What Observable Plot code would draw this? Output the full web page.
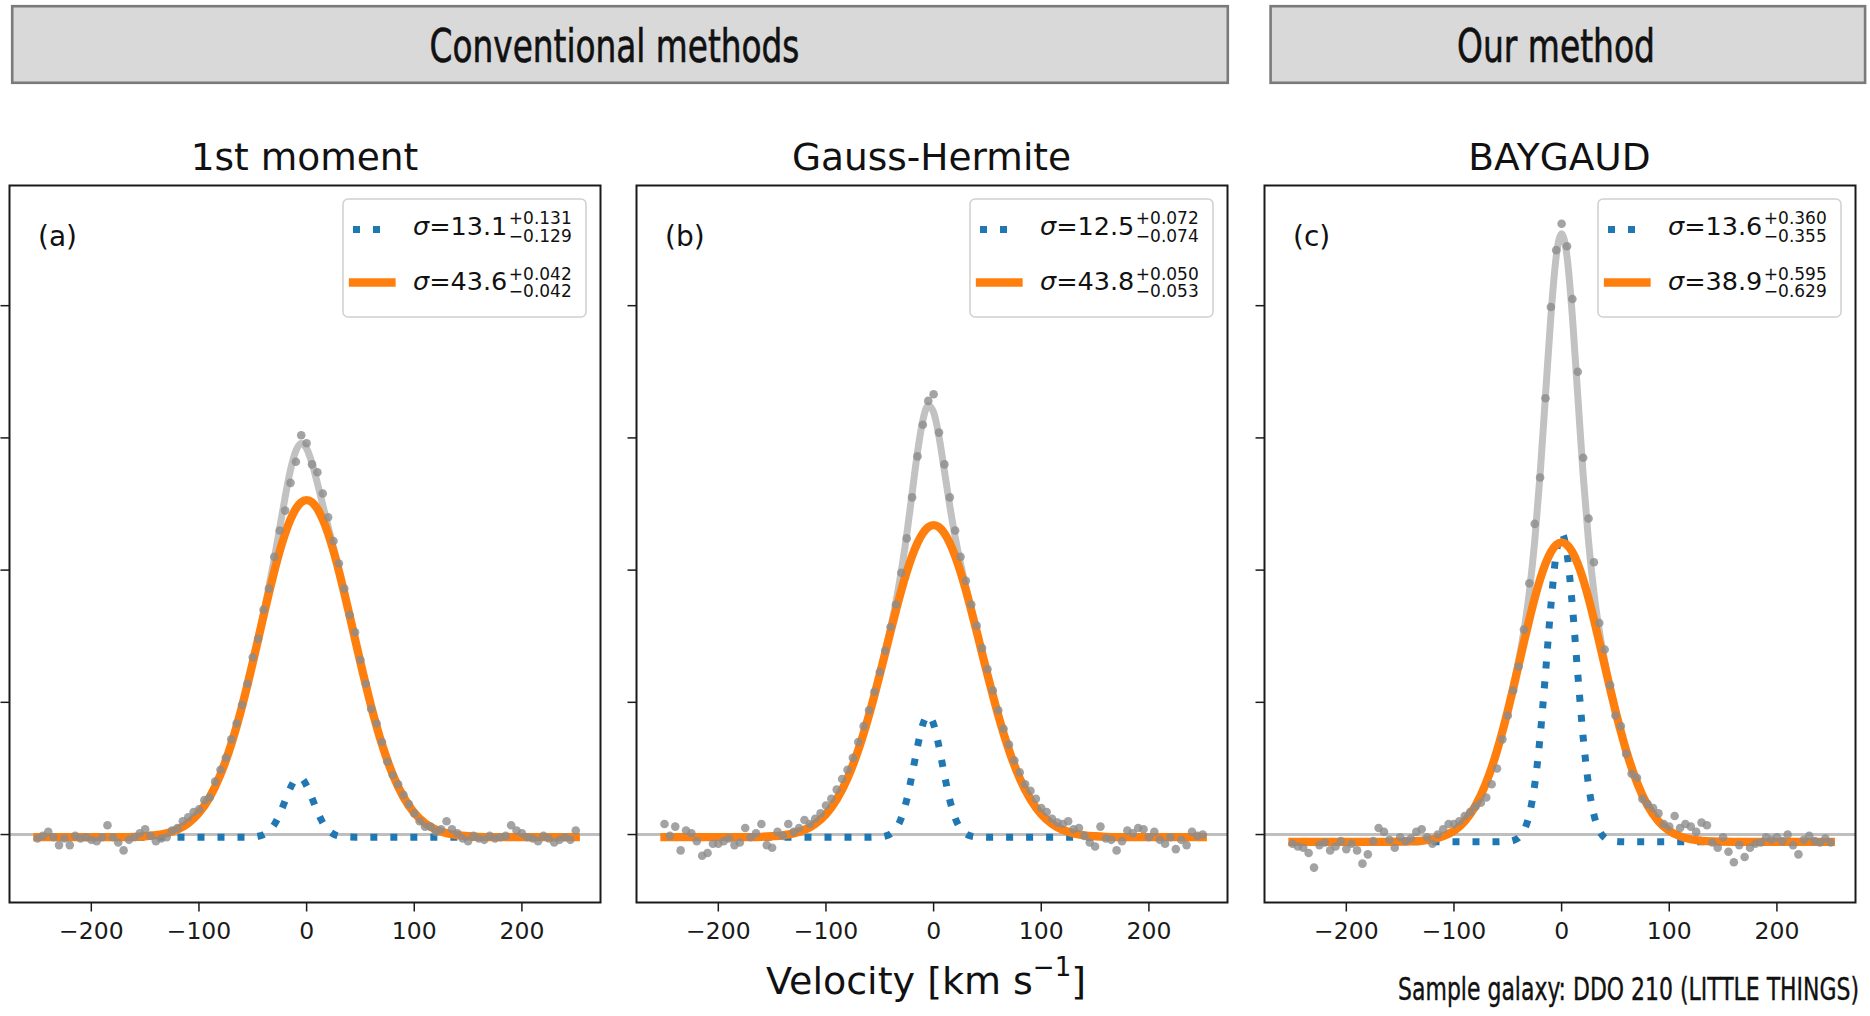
<!DOCTYPE html>
<html>
<head>
<meta charset="utf-8">
<script src="https://cdn.jsdelivr.net/npm/d3@7"></script>
<script src="https://cdn.jsdelivr.net/npm/@observablehq/plot@0.6"></script>
<style>
  html, body { margin: 0; padding: 0; background: #ffffff; }
  #page { position: relative; width: 1870px; height: 1016px; overflow: hidden; background: #ffffff; }
</style>
</head>
<body>
<div id="page"></div>
<script>
// ---------------- DATA ----------------
const groupTitles = ["Conventional methods", "Our method"];
const panelTitles = ["1st moment", "Gauss-Hermite", "BAYGAUD"];
const panelLetters = ["(a)", "(b)", "(c)"];
const xTicks = [-200, -100, 0, 100, 200];
const yTicks = [0, 1, 2, 3, 4];
const xLabelMain = "Velocity [km s";
const xLabelSup = "−1";
const captionText = "Sample galaxy: DDO 210 (LITTLE THINGS)";

// legend numbers
const narrowSigma = ["13.1", "12.5", "13.6"];
const narrowPlus  = ["+0.131", "+0.072", "+0.360"];
const narrowMinus = ["−0.129", "−0.074", "−0.355"];
const broadSigma  = ["43.6", "43.8", "38.9"];
const broadPlus   = ["+0.042", "+0.050", "+0.595"];
const broadMinus  = ["−0.042", "−0.053", "−0.629"];

// channel velocities of the observed spectra (km/s)
const velocity = [-250,-245,-240,-235,-230,-225,-220,-215,-210,-205,-200,-195,-190,-185,-180,-175,-170,-165,-160,-155,
  -150,-145,-140,-135,-130,-125,-120,-115,-110,-105,-100,-95,-90,-85,-80,-75,-70,-65,-60,-55,
  -50,-45,-40,-35,-30,-25,-20,-15,-10,-5,0,5,10,15,20,25,30,35,40,45,
  50,55,60,65,70,75,80,85,90,95,100,105,110,115,120,125,130,135,140,145,
  150,155,160,165,170,175,180,185,190,195,200,205,210,215,220,225,230,235,240,245,250];

// observed fluxes (grey dots), one per panel
const fluxA = [-0.03,-0.01,0.02,-0.02,-0.08,-0.03,-0.08,-0.01,-0.03,-0.02,-0.04,-0.05,-0.02,0.07,-0.02,-0.06,-0.12,-0.04,-0.02,0.01,
  0.04,-0.01,-0.05,-0.03,-0.02,0.03,0.05,0.10,0.13,0.17,0.19,0.26,0.28,0.40,0.49,0.58,0.72,0.84,0.98,1.14,
  1.34,1.48,1.70,1.86,2.10,2.30,2.45,2.66,2.82,3.02,2.96,2.80,2.74,2.58,2.40,2.22,2.05,1.86,1.66,1.53,
  1.32,1.14,0.95,0.84,0.70,0.55,0.45,0.38,0.30,0.23,0.16,0.10,0.06,0.06,0.02,0.04,0.10,0.04,0.01,-0.03,
  -0.05,-0.01,-0.03,-0.04,-0.01,-0.03,-0.02,-0.01,0.07,0.03,0.01,-0.02,-0.03,-0.05,-0.01,-0.03,-0.06,-0.04,-0.02,-0.04,0.03];
const fluxB = [0.08,-0.01,0.06,-0.12,0.03,0.01,-0.05,-0.16,-0.14,-0.07,-0.07,-0.05,-0.03,-0.08,-0.06,0.05,-0.02,0.01,0.08,-0.08,
  -0.10,0.02,-0.01,0.08,0.02,0.05,0.11,0.08,0.12,0.16,0.22,0.27,0.34,0.42,0.49,0.58,0.70,0.82,0.94,1.08,
  1.23,1.39,1.57,1.74,1.98,2.24,2.55,2.86,3.10,3.28,3.33,3.04,2.80,2.55,2.30,2.10,1.92,1.74,1.58,1.41,
  1.25,1.09,0.94,0.80,0.68,0.56,0.47,0.38,0.33,0.27,0.20,0.17,0.12,0.09,0.08,0.10,0.04,0.05,-0.01,-0.06,
  -0.09,0.06,-0.03,-0.04,-0.12,-0.05,0.03,0.01,0.05,0.04,-0.02,0.02,-0.04,-0.07,-0.02,-0.11,-0.04,-0.08,0.02,-0.01,0.00];
const fluxC = [-0.07,-0.09,-0.10,-0.14,-0.25,-0.08,-0.06,-0.12,-0.09,-0.05,-0.11,-0.07,-0.12,-0.22,-0.15,-0.05,0.05,0.02,-0.04,-0.10,
  -0.02,-0.05,-0.03,0.02,0.04,-0.02,-0.07,0.00,0.04,0.08,0.08,0.10,0.14,0.17,0.21,0.24,0.28,0.38,0.50,0.72,
  0.90,1.09,1.27,1.55,1.90,2.35,2.70,3.30,3.99,4.42,4.62,4.45,4.05,3.50,2.85,2.39,2.06,1.60,1.40,1.13,
  0.90,0.82,0.61,0.46,0.43,0.27,0.23,0.20,0.16,0.08,0.06,0.14,0.05,0.08,0.06,0.02,0.09,0.07,-0.06,-0.10,
  -0.02,-0.13,-0.21,-0.08,-0.17,-0.10,-0.07,-0.06,-0.02,-0.04,-0.02,-0.05,0.00,-0.08,-0.15,-0.04,-0.01,-0.05,-0.06,-0.03,-0.06];

// velocities at which the fitted profiles were read
const modelVelocity = [-250,-200,-170,-160,-150,-140,-130,-120,-110,-100,-90,-80,-70,
  -60,-55,-50,-45,-40,-35,-30,-25,-20,-15,-10,-5,0,5,10,15,20,25,30,35,40,45,50,55,60,
  70,80,90,100,110,120,130,140,150,160,170,200,250];

// panel (a) 1st moment
const totalA = [-0.02,-0.02,-0.019,-0.017,-0.013,-0.005,0.010,0.038,0.086,0.164,0.283,0.454,0.683,
  0.969,1.132,1.303,1.484,1.673,1.873,2.088,2.318,2.550,2.757,2.902,2.958,2.920,2.809,2.658,2.493,2.329,2.166,2.000,1.830,1.655,1.477,1.301,1.131,0.969,
  0.683,0.454,0.283,0.164,0.086,0.038,0.010,-0.005,-0.013,-0.017,-0.019,-0.02,-0.02];
const broadA = [-0.02,-0.02,-0.019,-0.017,-0.013,-0.005,0.010,0.038,0.086,0.164,0.283,0.454,0.683,
  0.969,1.131,1.301,1.477,1.654,1.827,1.992,2.143,2.275,2.383,2.464,2.513,2.530,2.513,2.464,2.383,2.275,2.143,1.992,1.827,1.654,1.477,1.301,1.131,0.969,
  0.683,0.454,0.283,0.164,0.086,0.038,0.010,-0.005,-0.013,-0.017,-0.019,-0.02,-0.02];
const narrowA = [-0.02,-0.02,-0.02,-0.02,-0.02,-0.02,-0.02,-0.02,-0.02,-0.02,-0.02,-0.02,-0.02,
  -0.020,-0.020,-0.018,-0.013,-0.001,0.026,0.076,0.155,0.255,0.354,0.418,0.425,0.370,0.276,0.174,0.090,0.034,0.003,-0.012,-0.017,-0.019,-0.020,-0.020,-0.020,-0.020,
  -0.02,-0.02,-0.02,-0.02,-0.02,-0.02,-0.02,-0.02,-0.02,-0.02,-0.02,-0.02,-0.02];

// panel (b) Gauss-Hermite
const totalB = [-0.02,-0.02,-0.019,-0.017,-0.013,-0.006,0.009,0.035,0.081,0.154,0.266,0.425,0.638,
  0.903,1.054,1.212,1.380,1.560,1.759,1.992,2.267,2.579,2.889,3.133,3.245,3.194,3.009,2.752,2.487,2.251,2.049,1.872,1.703,1.537,1.373,1.210,1.053,0.903,
  0.638,0.425,0.266,0.154,0.081,0.035,0.009,-0.006,-0.013,-0.017,-0.019,-0.02,-0.02];
const broadB = [-0.02,-0.02,-0.019,-0.017,-0.013,-0.006,0.009,0.035,0.081,0.154,0.266,0.425,0.638,
  0.903,1.053,1.210,1.372,1.535,1.695,1.847,1.985,2.106,2.205,2.279,2.325,2.340,2.325,2.279,2.205,2.106,1.985,1.847,1.695,1.535,1.372,1.210,1.053,0.903,
  0.638,0.425,0.266,0.154,0.081,0.035,0.009,-0.006,-0.013,-0.017,-0.019,-0.02,-0.02];
const narrowB = [-0.02,-0.02,-0.02,-0.02,-0.02,-0.02,-0.02,-0.02,-0.02,-0.02,-0.02,-0.02,-0.02,
  -0.020,-0.019,-0.018,-0.012,0.005,0.044,0.125,0.262,0.453,0.664,0.834,0.900,0.834,0.664,0.453,0.262,0.125,0.044,0.005,-0.012,-0.018,-0.019,-0.020,-0.020,-0.020,
  -0.02,-0.02,-0.02,-0.02,-0.02,-0.02,-0.02,-0.02,-0.02,-0.02,-0.02,-0.02,-0.02];

// panel (c) BAYGAUD
const totalC = [-0.055,-0.055,-0.055,-0.055,-0.054,-0.052,-0.047,-0.036,-0.013,0.028,0.101,0.218,0.394,
  0.634,0.780,0.940,1.115,1.311,1.541,1.832,2.218,2.722,3.319,3.918,4.373,4.545,4.373,3.918,3.319,2.722,2.218,1.832,1.541,1.311,1.115,0.940,0.780,0.634,
  0.394,0.218,0.101,0.028,-0.013,-0.036,-0.047,-0.052,-0.054,-0.055,-0.055,-0.055,-0.055];
const broadC = [-0.055,-0.055,-0.055,-0.055,-0.054,-0.052,-0.047,-0.036,-0.013,0.028,0.101,0.218,0.394,
  0.634,0.779,0.937,1.105,1.280,1.456,1.627,1.787,1.930,2.048,2.136,2.191,2.210,2.191,2.136,2.048,1.930,1.787,1.627,1.456,1.280,1.105,0.937,0.779,0.634,
  0.394,0.218,0.101,0.028,-0.013,-0.036,-0.047,-0.052,-0.054,-0.055,-0.055,-0.055,-0.055];
const narrowC = [-0.055,-0.055,-0.055,-0.055,-0.055,-0.055,-0.055,-0.055,-0.055,-0.055,-0.055,-0.055,-0.055,
  -0.055,-0.054,-0.052,-0.045,-0.024,0.030,0.150,0.376,0.737,1.216,1.727,2.127,2.280,2.127,1.727,1.216,0.737,0.376,0.150,0.030,-0.024,-0.045,-0.052,-0.054,-0.055,
  -0.055,-0.055,-0.055,-0.055,-0.055,-0.055,-0.055,-0.055,-0.055,-0.055,-0.055,-0.055,-0.055];

// ---------------- LAYOUT ----------------
const W = 1870, H = 1016;
const frameLeft = [9, 636, 1264];
const frameTop = 185, frameW = 591, frameH = 717;
const ML = 9, MR = 10, MT = 10, MB = 60;
const colors = {grey: "#8c8c8c", greyLine: "#c2c2c2", zero: "#bfbfbf", blue: "#1f77b4", orange: "#ff7f0e", ink: "#1a1a1a"};
const fontMain = "'DejaVu Sans', 'Noto Sans', sans-serif";
const fontNarrow = "'DejaVu Sans Condensed', 'Liberation Sans Narrow', 'DejaVu Sans', sans-serif";

const panels = [
  {flux: fluxA, total: totalA, broad: broadA, narrow: narrowA},
  {flux: fluxB, total: totalB, broad: broadB, narrow: narrowB},
  {flux: fluxC, total: totalC, broad: broadC, narrow: narrowC}
];

const page = document.getElementById("page");

panels.forEach((p, i) => {
  const modelRows = modelVelocity.map((v, j) => ({v, total: p.total[j], broad: p.broad[j], narrow: p.narrow[j]}));
  const dataRows = velocity.map((v, j) => ({v, flux: p.flux[j]}));
  const chart = Plot.plot({
    width: frameW + ML + MR,
    height: frameH + MT + MB,
    marginLeft: ML, marginRight: MR, marginTop: MT, marginBottom: MB,
    x: {domain: [-276, 273]},
    y: {domain: [-0.514, 4.909]},
    style: {fontFamily: fontMain, fontSize: "23.5px", color: colors.ink, background: "transparent", overflow: "visible"},
    marks: [
      Plot.ruleY([0], {stroke: colors.zero, strokeWidth: 3}),
      Plot.line(modelRows, {x: "v", y: "total", stroke: colors.greyLine, strokeWidth: 7, curve: "monotone-x"}),
      Plot.line(modelRows, {x: "v", y: "narrow", stroke: colors.blue, strokeWidth: 7, strokeDasharray: "7 13", strokeLinecap: "butt", curve: "monotone-x"}),
      Plot.line(modelRows, {x: "v", y: "broad", stroke: colors.orange, strokeWidth: 8.3, strokeLinecap: "square", curve: "monotone-x"}),
      Plot.dot(dataRows, {x: "v", y: "flux", r: 4.3, fill: colors.grey, fillOpacity: 0.8, stroke: "none"}),
      Plot.axisX(xTicks, {tickSize: 9.5, tickPadding: 10.5, tickFormat: d3.format("d"), label: null, fontSize: 23.5, strokeWidth: 1.5}),
      Plot.axisY(yTicks, {tickSize: 8.5, fill: "none", label: null, strokeWidth: 1.5}),
      Plot.frame({stroke: colors.ink, strokeWidth: 2})
    ]
  });
  chart.style.position = "absolute";
  chart.style.left = (frameLeft[i] - ML) + "px";
  chart.style.top = (frameTop - MT) + "px";
  chart.style.maxWidth = "none";
  page.appendChild(chart);
});

// ---------------- OVERLAY: headers, titles, legends, labels ----------------
const svg = d3.select(page).append("svg")
  .attr("width", W).attr("height", H)
  .style("position", "absolute").style("left", "0px").style("top", "0px")
  .style("pointer-events", "none")
  .style("font-family", fontMain);

// text squeezed horizontally to a target width (condensed look of the original)
function squeezedText(x, y, anchor, size, target, str, strokeW) {
  const g = svg.append("g");
  const t = g.append("text").attr("x", 0).attr("y", 0).attr("text-anchor", anchor)
    .attr("font-family", fontNarrow).attr("font-size", size).attr("fill", "#111")
    .attr("stroke", "#111").attr("stroke-width", strokeW)
    .text(str);
  const len = t.node().getComputedTextLength();
  const s = Math.min(1, target / len);
  g.attr("transform", `translate(${x},${y}) scale(${s},1)`);
}

const headers = [
  {x: 12.2, y: 6.2, w: 1215.6, h: 76.6, tx: 614.5, tl: 370},
  {x: 1270.6, y: 6.2, w: 594.5, h: 76.6, tx: 1556, tl: 198}
];
headers.forEach((h, k) => {
  svg.append("rect").attr("x", h.x).attr("y", h.y).attr("width", h.w).attr("height", h.h)
    .attr("fill", "#d9d9d9").attr("stroke", "#7a7a7a").attr("stroke-width", 2.6);
  squeezedText(h.tx, 62, "middle", 46, h.tl, groupTitles[k], 0.6);
});

frameLeft.forEach((fl, i) => {
  const fr = fl + frameW;
  // subplot title
  svg.append("text").attr("x", fl + frameW / 2).attr("y", 170).attr("text-anchor", "middle")
    .attr("font-size", 37.5).attr("fill", "#111").text(panelTitles[i]);
  // panel letter
  svg.append("text").attr("x", fl + 29).attr("y", 246).attr("font-size", 28).attr("fill", "#111").text(panelLetters[i]);
  // legend
  const bx = fr - 14 - 243, by = frameTop + 14;
  svg.append("rect").attr("x", bx).attr("y", by).attr("width", 243).attr("height", 118).attr("rx", 5)
    .attr("fill", "#ffffff").attr("fill-opacity", 0.8).attr("stroke", "#d0d0d0").attr("stroke-width", 1.5);
  svg.append("line").attr("x1", bx + 10).attr("x2", bx + 49).attr("y1", 229.5).attr("y2", 229.5)
    .attr("stroke", colors.blue).attr("stroke-width", 7).attr("stroke-dasharray", "7 13");
  svg.append("line").attr("x1", bx + 10).attr("x2", bx + 48.5).attr("y1", 282.5).attr("y2", 282.5)
    .attr("stroke", colors.orange).attr("stroke-width", 8.3).attr("stroke-linecap", "square");
  const entries = [
    {val: narrowSigma[i], plus: narrowPlus[i], minus: narrowMinus[i], base: 235, supY: 224.3, subY: 241.7},
    {val: broadSigma[i], plus: broadPlus[i], minus: broadMinus[i], base: 290, supY: 280, subY: 296.7}
  ];
  const tx = bx + 70;
  entries.forEach(e => {
    const t = svg.append("text").attr("x", tx).attr("y", e.base).attr("font-size", 25.5).attr("fill", "#111");
    t.append("tspan").attr("font-style", "italic").text("σ");
    t.append("tspan").text("=" + e.val);
    const len = t.node().getComputedTextLength();
    svg.append("text").attr("x", tx + len + 1.5).attr("y", e.supY).attr("font-size", 17).attr("fill", "#111").text(e.plus);
    svg.append("text").attr("x", tx + len + 1.5).attr("y", e.subY).attr("font-size", 17).attr("fill", "#111").text(e.minus);
  });
});

// x axis label
const xl = svg.append("text").attr("x", 926).attr("y", 994).attr("text-anchor", "middle")
  .attr("font-size", 38).attr("fill", "#111");
xl.append("tspan").text(xLabelMain);
xl.append("tspan").attr("font-size", 26).attr("dy", -18).text(xLabelSup);
xl.append("tspan").attr("font-size", 38).attr("dy", 18).text("]");

// caption (right-aligned, condensed)
squeezedText(1859, 1000, "end", 32, 461, captionText, 0.4);
</script>
</body>
</html>
